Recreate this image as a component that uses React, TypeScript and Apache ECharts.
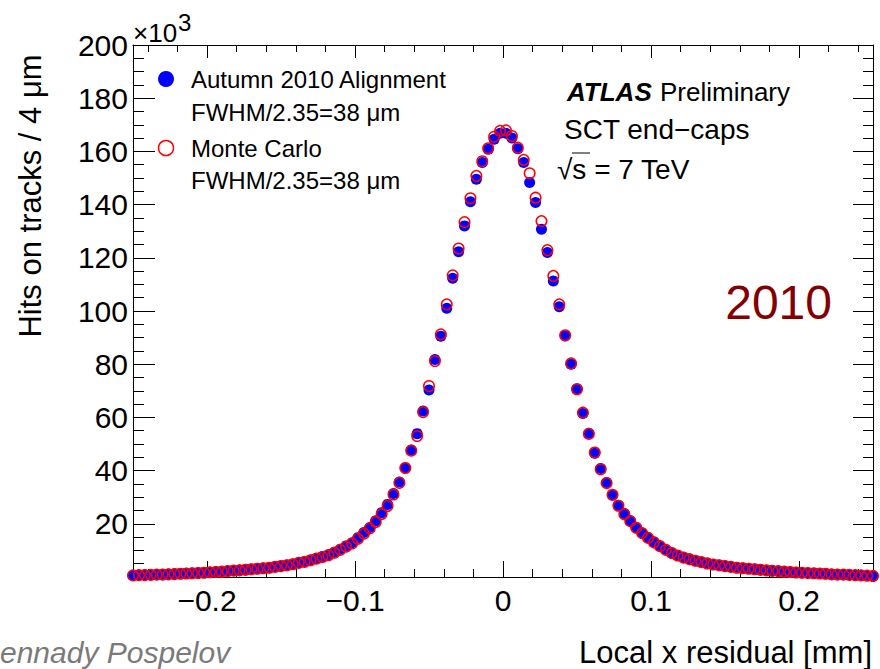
import React, { useEffect, useRef } from 'react';
import * as echarts from 'echarts';

// Histogram binning (bin centres from -0.25 to 0.25 mm, 4 um bins)
const BIN_START = -0.25;
const BIN_WIDTH = 0.004;

// Hits on tracks (x 10^3) – Autumn 2010 Alignment (data)
const DATA_2010 = [
  0.6, 0.7, 0.8, 0.8, 0.9, 1.0, 1.1, 1.2, 1.3, 1.4,
  1.5, 1.6, 1.7, 1.8, 2.0, 2.1, 2.3, 2.4, 2.6, 2.8,
  3.0, 3.2, 3.4, 3.6, 3.9, 4.2, 4.5, 4.9, 5.4, 5.8,
  6.4, 7.0, 7.7, 8.4, 9.3, 10.4, 11.7, 12.9, 14.8, 16.7,
  18.6, 21.1, 24.2, 27.3, 31.4, 35.7, 41.1, 47.7, 53.9, 62.4,
  70.3, 81.8, 90.5, 101.0, 112.3, 122.3, 132.0, 141.1, 149.5, 155.8,
  160.8, 164.6, 166.8,
  166.8, 165.0, 161.0, 155.8, 148.3, 140.8, 130.7, 122.0, 111.3, 101.6,
  90.6, 80.0, 70.8, 61.5, 54.0, 46.5, 40.8, 35.5, 30.7, 27.0,
  23.9, 21.1, 18.6, 16.5, 14.8, 13.2, 11.7, 10.3, 9.1, 8.1,
  7.4, 6.7, 6.1, 5.6, 5.2, 4.8, 4.5, 4.2, 3.9, 3.6,
  3.4, 3.2, 3.0, 2.8, 2.5, 2.4, 2.2, 2.1, 1.9, 1.8,
  1.6, 1.5, 1.4, 1.3, 1.2, 1.0, 1.0, 0.9, 0.8, 0.7,
  0.6, 0.5, 0.4,
];

// Hits on tracks (x 10^3) – Monte Carlo
const MONTE_CARLO = [
  0.6, 0.7, 0.7, 0.8, 0.9, 0.9, 1.0, 1.1, 1.2, 1.3,
  1.4, 1.5, 1.6, 1.8, 1.9, 2.0, 2.2, 2.4, 2.5, 2.7,
  2.9, 3.1, 3.3, 3.5, 3.8, 4.1, 4.4, 4.8, 5.3, 5.7,
  6.3, 6.9, 7.5, 8.2, 9.1, 10.2, 11.4, 12.6, 14.4, 16.3,
  18.3, 20.7, 23.7, 26.7, 31.0, 35.4, 41.0, 47.5, 53.0, 62.0,
  71.8, 81.2, 91.2, 102.5, 113.4, 123.5, 133.4, 142.4, 150.8, 156.3,
  161.2, 165.5, 167.7,
  167.9, 165.8, 161.4, 156.8, 151.8, 142.6, 133.8, 122.9, 113.2, 102.5,
  90.9, 80.3, 70.6, 61.8, 53.8, 46.8, 40.5, 35.3, 30.9, 26.8,
  23.6, 21.0, 18.5, 16.5, 14.7, 13.0, 11.6, 10.2, 9.0, 8.1,
  7.3, 6.7, 6.1, 5.6, 5.1, 4.7, 4.4, 4.1, 3.8, 3.5,
  3.3, 3.1, 2.9, 2.7, 2.5, 2.3, 2.2, 2.0, 1.9, 1.7,
  1.6, 1.5, 1.4, 1.3, 1.2, 1.0, 0.9, 0.9, 0.8, 0.7,
  0.6, 0.5, 0.4,
];

const X_MAJOR_TICKS = [-0.2, -0.1, 0, 0.1, 0.2];
const X_MINOR_TICKS = [
  -0.24, -0.22, -0.18, -0.16, -0.14, -0.12, -0.08, -0.06, -0.04, -0.02,
  0.02, 0.04, 0.06, 0.08, 0.12, 0.14, 0.16, 0.18, 0.22, 0.24,
];
const Y_MIN = 0;
const Y_MAX = 200;
const Y_STEP = 20;

const FONT = '"Liberation Sans", Arial, Helvetica, sans-serif';
const AXIS_COLOR = '#000';

function toPoints(values: number[]) {
  return values.map((v, i) => [+(BIN_START + i * BIN_WIDTH).toFixed(3), v]);
}

function fmtX(v: number) {
  if (Math.abs(v) < 1e-9) return '0';
  const s = Math.abs(v).toFixed(1);
  return v < 0 ? '\u2212' + s : s;
}

export default function App() {
  const ref = useRef<HTMLDivElement>(null);
  useEffect(() => {
    if (!ref.current) return;
    const chart = echarts.init(ref.current, undefined, { renderer: 'svg' });
    const tickLine = { color: AXIS_COLOR, width: 1 };
    const xBase = {
      type: 'value' as const,
      min: -0.25,
      max: 0.25,
      splitLine: { show: false },
      minorSplitLine: { show: false },
    };
    const yBase = {
      type: 'value' as const,
      min: Y_MIN,
      max: Y_MAX,
      interval: Y_STEP,
      splitLine: { show: false },
      minorSplitLine: { show: false },
    };
    chart.setOption({
      animation: false,
      backgroundColor: '#fff',
      grid: { left: 133, right: 7, top: 45, bottom: 92, containLabel: false },
      xAxis: [
        {
          ...xBase,
          position: 'bottom',
          axisLine: { show: true, onZero: false, lineStyle: tickLine },
          axisTick: { show: true, inside: true, length: 16, customValues: X_MAJOR_TICKS, lineStyle: tickLine },
          axisLabel: {
            show: true,
            customValues: X_MAJOR_TICKS,
            formatter: (v: number) => fmtX(v),
            fontSize: 30,
            fontFamily: FONT,
            color: '#000',
            margin: 8,
          },
        },
        {
          ...xBase,
          position: 'bottom',
          axisLine: { show: false, onZero: false },
          axisTick: { show: true, inside: true, length: 8, customValues: X_MINOR_TICKS, lineStyle: tickLine },
          axisLabel: { show: false },
        },
        {
          ...xBase,
          position: 'top',
          axisLine: { show: true, onZero: false, lineStyle: tickLine },
          axisTick: { show: true, inside: true, length: 13, customValues: X_MAJOR_TICKS, lineStyle: tickLine },
          axisLabel: { show: false },
        },
        {
          ...xBase,
          position: 'top',
          axisLine: { show: false, onZero: false },
          axisTick: { show: true, inside: true, length: 7, customValues: X_MINOR_TICKS, lineStyle: tickLine },
          axisLabel: { show: false },
        },
      ],
      yAxis: [
        {
          ...yBase,
          position: 'left',
          axisLine: { show: true, onZero: false, lineStyle: tickLine },
          axisTick: { show: true, inside: true, length: 22, lineStyle: tickLine },
          minorTick: { show: true, splitNumber: 4, length: 11, lineStyle: tickLine },
          axisLabel: {
            show: true,
            formatter: (v: number) => (v === 0 ? '' : String(v)),
            fontSize: 30,
            fontFamily: FONT,
            color: '#000',
            margin: 5,
          },
        },
        {
          ...yBase,
          position: 'right',
          axisLine: { show: true, onZero: false, lineStyle: tickLine },
          axisTick: { show: true, inside: true, length: 20, lineStyle: tickLine },
          minorTick: { show: true, splitNumber: 4, length: 10, lineStyle: tickLine },
          axisLabel: { show: false },
        },
      ],
      series: [
        {
          name: 'Autumn 2010 Alignment',
          type: 'scatter',
          xAxisIndex: 0,
          yAxisIndex: 0,
          symbol: 'circle',
          symbolSize: 11,
          clip: false,
          itemStyle: { color: '#0000ff', opacity: 1 },
          data: toPoints(DATA_2010),
        },
        {
          name: 'Monte Carlo',
          type: 'scatter',
          xAxisIndex: 0,
          yAxisIndex: 0,
          symbol: 'circle',
          symbolSize: 10.5,
          clip: false,
          itemStyle: { color: 'none', borderColor: '#ff0000', borderWidth: 1.5, opacity: 1 },
          data: toPoints(MONTE_CARLO),
        },
      ],
      graphic: [
        // x10^3 exponent
        { type: 'text', x: 133, y: 33, style: { text: '\u00d710', fontSize: 26, fontFamily: FONT, fill: '#000', align: 'left', verticalAlign: 'middle' } },
        { type: 'text', x: 178, y: 22, style: { text: '3', fontSize: 24, fontFamily: FONT, fill: '#000', align: 'left', verticalAlign: 'middle' } },
        // y axis title
        {
          type: 'text', x: 30, y: 196, rotation: Math.PI / 2,
          style: { text: 'Hits on tracks / 4 \u03bcm', fontSize: 31, fontFamily: FONT, fill: '#000', align: 'center', verticalAlign: 'middle' },
        },
        // x axis title
        { type: 'text', x: 872, y: 652, style: { text: 'Local x residual [mm]', fontSize: 31, fontFamily: FONT, fill: '#000', align: 'right', verticalAlign: 'middle' } },
        // legend
        { type: 'circle', shape: { cx: 166, cy: 79, r: 8 }, style: { fill: '#0000ff' } },
        { type: 'text', x: 191, y: 79, style: { text: 'Autumn 2010 Alignment', fontSize: 24, fontFamily: FONT, fill: '#000', align: 'left', verticalAlign: 'middle' } },
        { type: 'text', x: 191, y: 112, style: { text: 'FWHM/2.35=38 \u03bcm', fontSize: 24, fontFamily: FONT, fill: '#000', align: 'left', verticalAlign: 'middle' } },
        { type: 'circle', shape: { cx: 166, cy: 148, r: 7.5 }, style: { fill: 'none', stroke: '#ff0000', lineWidth: 1.5 } },
        { type: 'text', x: 191, y: 148, style: { text: 'Monte Carlo', fontSize: 24, fontFamily: FONT, fill: '#000', align: 'left', verticalAlign: 'middle' } },
        { type: 'text', x: 191, y: 180, style: { text: 'FWHM/2.35=38 \u03bcm', fontSize: 24, fontFamily: FONT, fill: '#000', align: 'left', verticalAlign: 'middle' } },
        // ATLAS label
        { type: 'text', x: 567, y: 92, style: { text: 'ATLAS', fontSize: 26, fontWeight: 'bold', fontStyle: 'italic', fontFamily: FONT, fill: '#000', align: 'left', verticalAlign: 'middle' } },
        { type: 'text', x: 660, y: 92, style: { text: 'Preliminary', fontSize: 26, fontFamily: FONT, fill: '#000', align: 'left', verticalAlign: 'middle' } },
        { type: 'text', x: 564, y: 129, style: { text: 'SCT end\u2212caps', fontSize: 28, fontFamily: FONT, fill: '#000', align: 'left', verticalAlign: 'middle' } },
        { type: 'text', x: 557, y: 169, style: { text: '\u221as = 7 TeV', fontSize: 28, fontFamily: FONT, fill: '#000', align: 'left', verticalAlign: 'middle' } },
        { type: 'line', shape: { x1: 572, y1: 153, x2: 590, y2: 153 }, style: { stroke: '#000', lineWidth: 1 } },
        // year
        { type: 'text', x: 832, y: 302, style: { text: '2010', fontSize: 48, fontFamily: FONT, fill: '#840000', align: 'right', verticalAlign: 'middle' } },
        // author (the visible part of the cropped credit)
        { type: 'text', x: 0, y: 652, style: { text: 'ennady Pospelov', fontSize: 30, fontStyle: 'italic', fontFamily: FONT, fill: '#7a7a7a', align: 'left', verticalAlign: 'middle' } },
      ],
    });
    return () => chart.dispose();
  }, []);
  return (
    <div
      ref={ref}
      style={{ position: 'fixed', left: 0, top: 0, width: 880, height: 669, background: '#fff' }}
    />
  );
}
